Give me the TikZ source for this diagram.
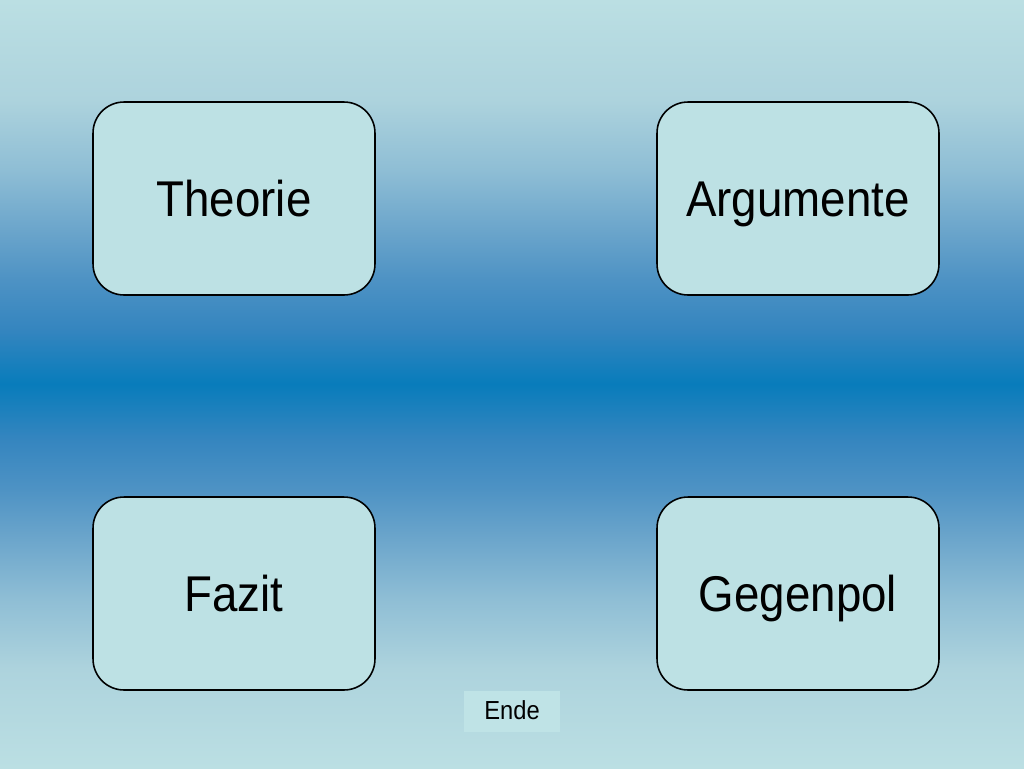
\documentclass[tikz,border=0pt]{standalone}
\usepackage{fontspec}
\setmainfont{Liberation Sans}
\definecolor{bga}{HTML}{BBDFE3}
\definecolor{bgb}{HTML}{ADD3DD}
\definecolor{bgc}{HTML}{8FBED5}
\definecolor{bgd}{HTML}{6BA5CB}
\definecolor{bge}{HTML}{4D92C4}
\definecolor{bgf}{HTML}{3485BF}
\definecolor{bgg}{HTML}{087CBB}
\definecolor{boxfill}{HTML}{BDE1E4}
\definecolor{endefill}{HTML}{BFE3E6}
\pgfdeclareverticalshading{bgshade}{100bp}{color(0bp)=(bga); color(25bp)=(bga); color(31.5bp)=(bgb); color(36bp)=(bgc); color(40bp)=(bgd); color(43.25bp)=(bge); color(46.5bp)=(bgf); color(50bp)=(bgg); color(53.5bp)=(bgf); color(56.75bp)=(bge); color(60bp)=(bgd); color(64bp)=(bgc); color(68.5bp)=(bgb); color(75bp)=(bga); color(100bp)=(bga)}
\newcommand{\tallt}[1]{\scalebox{1}[1.1]{#1}}
\tikzset{
  topic/.style={draw=black, line width=0.9pt, fill=boxfill, rounded corners=0.62cm,
    minimum width=5.64cm, minimum height=3.86cm, inner sep=0pt,
    text height=0.72cm, text depth=0pt,
    font=\fontsize{26}{31}\selectfont, text=black},
  endebtn/.style={fill=endefill, draw=none, minimum width=1.92cm, minimum height=0.82cm,
    inner sep=0pt, text height=0.34cm, text depth=0pt,
    font=\fontsize{13.5}{16}\selectfont, text=black}
}
\begin{document}
\begin{tikzpicture}[x=0.02cm, y=-0.02cm]
\useasboundingbox (0,0) rectangle (1024,768);
\shade[shading=bgshade] (0,0) rectangle (1024,768);
\node[topic] (theorie) at (234,198.5) {\tallt{Theorie}};
\node[topic] (argumente) at (798,198.5) {\tallt{Argumente}};
\node[topic] (fazit) at (234,593.5) {\tallt{Fazit}};
\node[topic] (gegenpol) at (798,593.5) {\tallt{Gegenpol}};
\node[endebtn] (ende) at (512,711) {\tallt{Ende}};
\end{tikzpicture}
\end{document}
